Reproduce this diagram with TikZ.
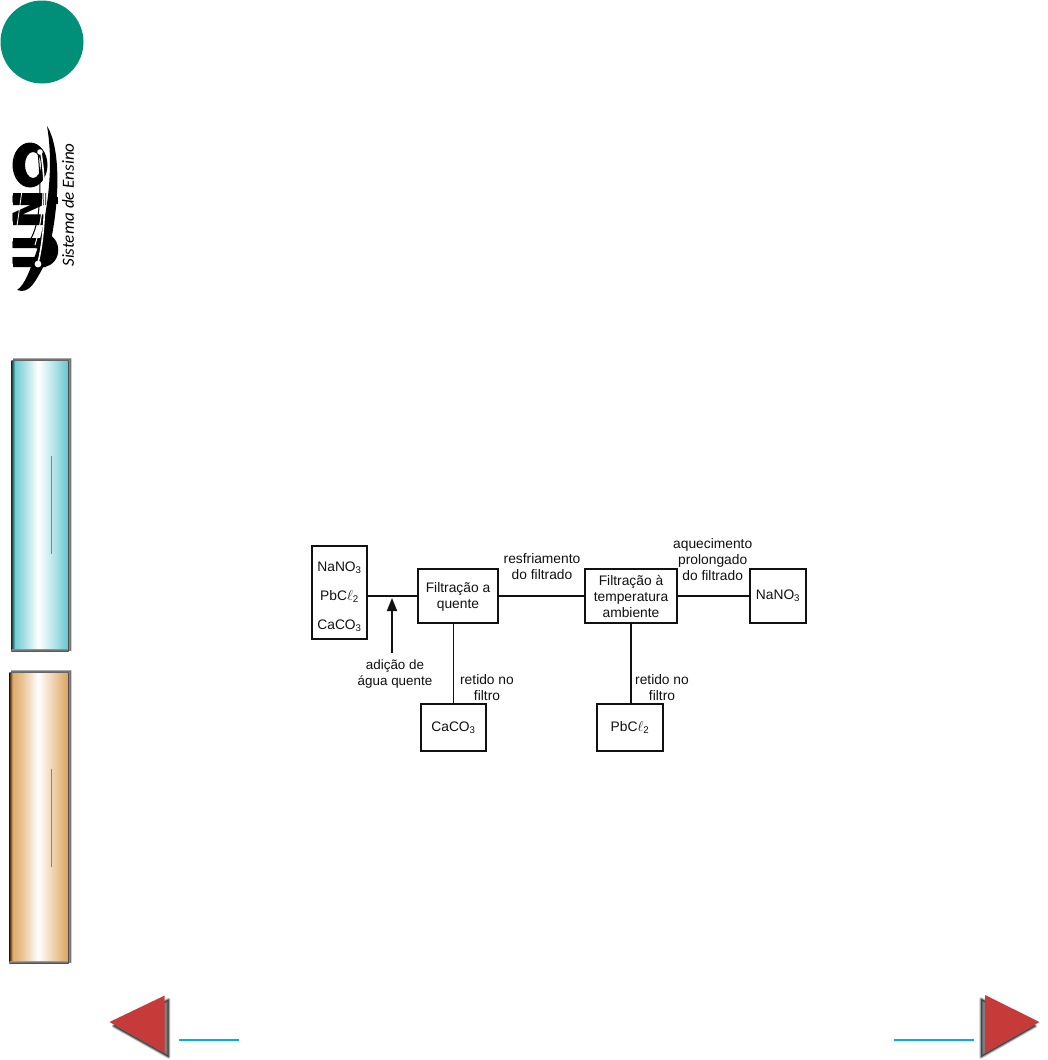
\documentclass[tikz,border=0pt]{standalone}
\usepackage{graphicx}
\usepackage{fontspec}
\setmainfont{Liberation Sans}
\newfontfamily\logofont{DejaVu Sans}
\newfontfamily\subfont{Carlito}
\usetikzlibrary{arrows.meta}
\definecolor{tealc}{HTML}{008F78}
\definecolor{linkc}{HTML}{00AEEF}
\definecolor{redc}{HTML}{C73A3A}
\definecolor{cyanc}{HTML}{62C6D0}
\definecolor{orangec}{HTML}{DDA35C}
\definecolor{inkc}{HTML}{111111}
\tikzset{
  boxnode/.style={draw=inkc,line width=1.8pt,inner sep=0pt,align=center,font=\fontsize{13.8}{16}\selectfont,text=inkc},
  lbl/.style={inner sep=0pt,align=center,font=\fontsize{13.8}{16}\selectfont,text=inkc},
  conn/.style={draw=inkc,line width=1.8pt},
  thinconn/.style={draw=inkc,line width=1.1pt},
  linkline/.style={draw=linkc,line width=2pt},
  barline/.style={draw=linkc,line width=1pt},
  logoletter/.style={rotate=90,inner sep=0pt,text=black,font=\logofont\bfseries\fontsize{46}{46}\selectfont},
}
\newcommand{\softpoly}[2]{%
  \foreach \w in {0.5,1.5,2.5,3.5}{\draw[black,opacity=0.16,line width=\w pt,line join=round,fill=black,fill opacity=0.16,shift={#2}] #1 -- cycle;}}
\begin{document}
\begin{tikzpicture}[x=1pt,y=-1pt]
\useasboundingbox (0,0) rectangle (1047,1060);
\fill[white] (0,0) rectangle (1047,1060);
% green disc
\fill[tealc] (42,42) circle[radius=41.5];
% logo
\node[logoletter] (logoU) at (30,252.5) {\scalebox{.78}[1]{U}};
\node[logoletter] (logoN) at (30,209) {\scalebox{.86}[1]{N}};
\fill[black] (13,238) rectangle (46,248) (13,257) rectangle (46,267);
\fill[black] (13,193) rectangle (46,205) (13,215) rectangle (46,225);
\fill[black,even odd rule] (30,165) ellipse[x radius=17.5,y radius=22.5] (33,165) ellipse[x radius=8,y radius=13];
\fill[black] (44,233) .. controls (63,236) and (63,264) .. (44,267) -- cycle;
\fill[black] (52,197) rectangle (58,204);
\fill[black] (17,290) .. controls (30,295) and (36,280) .. (46,262) .. controls (60,210) and (62,150) .. (47,126) .. controls (53,160) and (50,205) .. (37,250) .. controls (30,270) and (25,285) .. (17,290) -- cycle;
\draw[white,line width=1.6pt] (41,153) .. controls (47,190) and (45,235) .. (38,263);
\draw[black,line width=1pt] (38,152) .. controls (42,190) and (40,225) .. (30,240);
\draw[white,line width=0.8pt] (22,190) .. controls (20,205) and (18,220) .. (16,232);
\draw[white,line width=1pt] (43,190) .. controls (43,205) and (41,225) .. (35,245);
\fill[white] (40,152) circle[radius=2.8];
\fill[white] (38,264) circle[radius=3.4];
\node[rotate=90,inner sep=0pt,text=black] (logosub) at (68,205) {\subfont\itshape\fontsize{17}{18}\selectfont Sistema de Ensino};
% cyan bar
\foreach \w in {0.5,1.5,2.5,3.5}{\draw[black,opacity=0.18,line width=\w pt] (13,359.5) -- (70,359.5) -- (70,651);}
\shade[left color=cyanc,right color=white,middle color=cyanc!55] (11.5,360) rectangle (38,651);
\shade[left color=white,right color=cyanc,middle color=cyanc!45] (38,360) rectangle (68.5,651);
\shade[left color=black!70!cyanc,right color=cyanc] (11.5,360) rectangle (15,651);
\shade[top color=black!45,bottom color=black!70] (11.5,649) rectangle (68.5,651.5);
\draw[black!70,line width=1pt] (68.5,360) -- (68.5,651);
\draw[black!60,line width=0.8pt] (11.5,360.5) -- (68.5,360.5);
\coordinate (barAtop) at (51.5,456);
\coordinate (barAbot) at (51.5,554);
\draw[barline] (barAtop) -- (barAbot);
% orange bar
\foreach \w in {0.5,1.5,2.5,3.5}{\draw[black,opacity=0.18,line width=\w pt] (11,671.5) -- (70,671.5) -- (70,963);}
\shade[left color=orangec,right color=white,middle color=orangec!60] (9.5,672) rectangle (38,963);
\shade[left color=white,right color=orangec,middle color=orangec!50] (38,672) rectangle (68.5,963);
\shade[left color=black!75!orangec,right color=orangec] (9.5,672) rectangle (12.5,963);
\shade[top color=black!40,bottom color=black!75] (9.5,961) rectangle (68.5,963.5);
\draw[black!70,line width=1pt] (68.5,672) -- (68.5,963);
\draw[black!60,line width=0.8pt] (9.5,672.5) -- (68.5,672.5);
\coordinate (barBtop) at (51.5,769);
\coordinate (barBbot) at (51.5,867);
\draw[barline] (barBtop) -- (barBbot);
% nav arrows
\softpoly{(109.5,1022) -- (164.7,995.5) -- (164.7,1053)}{(4,4)}
\fill[redc] (109.5,1022) -- (164.7,995.5) -- (164.7,1053) -- cycle;
\softpoly{(1039.5,1022) -- (985,995) -- (985,1053)}{(-4,4)}
\fill[redc] (1039.5,1022) -- (985,995) -- (985,1053) -- cycle;
\coordinate (linkAa) at (179,1040);
\coordinate (linkAb) at (239,1040);
\coordinate (linkBa) at (894,1040);
\coordinate (linkBb) at (974,1040);
\draw[linkline] (linkAa) -- (linkAb);
\draw[linkline] (linkBa) -- (linkBb);
% flow boxes
\node[boxnode,font=\fontsize{13.8}{29}\selectfont,minimum width=55pt,minimum height=93pt] (mix) at (339.5,592.3) {\rule{0pt}{18pt}NaNO\textsubscript{3}\\PbC$\ell$\textsubscript{2}\\CaCO\textsubscript{3}};
\node[boxnode,minimum width=80.5pt,minimum height=53.5pt] (hot) at (458,596) {\rule{0pt}{12pt}Filtração a\\quente};
\node[boxnode,minimum width=91.5pt,minimum height=53.5pt] (amb) at (631,596) {Filtração à\\temperatura\\ambiente};
\node[boxnode,minimum width=56pt,minimum height=53.5pt] (nano) at (778,596) {NaNO\textsubscript{3}};
\node[boxnode,minimum width=65.5pt,minimum height=46.5pt] (caco) at (453.5,727.5) {CaCO\textsubscript{3}};
\node[boxnode,minimum width=65.5pt,minimum height=46.5pt] (pbcl) at (630,727.5) {PbC$\ell$\textsubscript{2}};
% connectors
\draw[conn] (mix.east |- hot.west) -- (hot.west);
\draw[conn] (hot.east) -- (amb.west);
\draw[conn] (amb.east) -- (nano.west);
\draw[thinconn] (hot.south -| caco.north) -- (caco.north);
\draw[conn] (amb.south) -- (amb.south |- pbcl.north);
% water arrow
\coordinate (waterTail) at (392,653);
\coordinate (waterTip) at (392,598);
\draw[conn,-{Triangle[length=13pt,width=10pt]}] (waterTail) -- (waterTip);
% labels
\node[lbl,font=\fontsize{13.4}{16}\selectfont] (lwater) at (395,674.5) {adição de\\água quente};
\node[lbl] (lret1) at (487,688) {retido no\\filtro};
\node[lbl] (lret2) at (662,688) {retido no\\filtro};
\node[lbl] (lres) at (542,567) {resfriamento\\do filtrado};
\node[lbl] (laq) at (712.7,560) {aquecimento\\prolongado\\do filtrado};
\end{tikzpicture}
\end{document}
